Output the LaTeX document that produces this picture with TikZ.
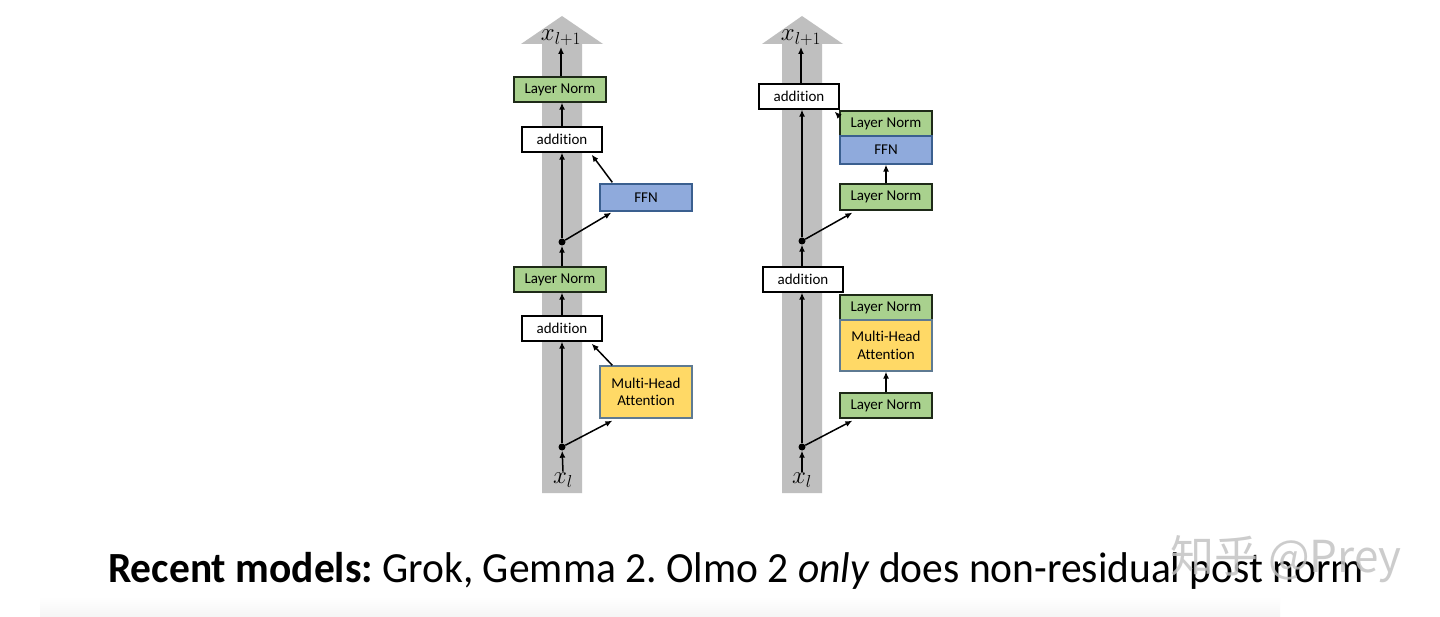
\documentclass[tikz,border=0pt]{standalone}
\usepackage{fontspec}
\setmainfont[Ligatures=NoCommon]{Carlito}
\newfontfamily\carlito[Ligatures=NoCommon]{Carlito}
\newfontfamily\cjk{Noto Sans CJK SC}
\usetikzlibrary{arrows.meta,calc}
\definecolor{barg}{HTML}{BFBFBF}
\definecolor{lngreen}{HTML}{A9D18E}
\definecolor{ffnblue}{HTML}{8FAADC}
\definecolor{mhayellow}{HTML}{FFD966}
\definecolor{lnborder}{HTML}{1E2A18}
\definecolor{ffnborder}{HTML}{3A5F8F}
\definecolor{mhaborder}{HTML}{5E7A92}
\definecolor{wmgray}{HTML}{C4C4C4}
\frenchspacing
\begin{document}
\begin{tikzpicture}[x=1pt,y=-1pt,
  blk/.style={draw, line width=1.3pt, inner sep=0pt, minimum width=92pt, minimum height=25pt,
    align=center, font=\carlito\fontsize{15}{17.5}\selectfont},
  lnbox/.style={blk, fill=lngreen, draw=lnborder},
  addbox/.style={blk, fill=white, draw=black, minimum width=80pt},
  ffnbox/.style={blk, fill=ffnblue, draw=ffnborder},
  mhabox/.style={blk, fill=mhayellow, draw=mhaborder},
  junction/.style={circle, fill=black, inner sep=0pt, minimum size=7pt},
  vlabel/.style={inner sep=1pt, font=\fontsize{27}{30}\selectfont},
  conn/.style={line width=1.5pt, -{Latex[length=7pt,width=6pt]}},
  highway/.style={fill=barg}
]
\useasboundingbox (0,0) rectangle (1440,617);
\fill[white] (0,0) rectangle (1440,617);
\shade[top color=white, bottom color=black!4] (40,597) rectangle (1280,617);

% ---------- left column (post-norm) ----------
\fill[highway] (542,493) -- (542,44) -- (521,44) -- (562,16) -- (603,44) -- (582,44) -- (582,493) -- cycle;
\node[vlabel] (xoutA) at (561,38) {$x_{l+1}$};
\node[vlabel] (xinA) at (563,480) {$x_{l}$};
\node[lnbox] (lnA1) at (560,89.5) {Layer Norm};
\node[addbox] (addA1) at (562,139.5) {addition};
\node[ffnbox, minimum height=27pt] (ffnA) at (646,197.5) {FFN};
\node[junction] (dotA2) at (562,242) {};
\node[lnbox] (lnA2) at (560,279.5) {Layer Norm};
\node[addbox] (addA2) at (562,328.5) {addition};
\node[mhabox, minimum height=52pt] (mhaA) at (646,392) {Multi-Head\\Attention};
\node[junction] (dotA1) at (562,447) {};

\draw[conn] (xinA.north) -- (dotA1);
\draw[conn] (dotA1) -- (dotA1 |- addA2.south);
\draw[conn] (dotA1) -- ($(mhaA.south west)+(13,2)$);
\draw[conn] ($(mhaA.north west)+(13,0)$) -- ($(addA2.south east)+(-11,2)$);
\draw[conn] (addA2.north) -- (addA2.north |- lnA2.south);
\draw[conn] (dotA2 |- lnA2.north) -- (dotA2);
\draw[conn] (dotA2) -- (dotA2 |- addA1.south);
\draw[conn] (dotA2) -- ($(ffnA.south west)+(12,1)$);
\draw[conn] ($(ffnA.north west)+(13,-1)$) -- ($(addA1.south east)+(-11,2)$);
\draw[conn] (addA1.north) -- (addA1.north |- lnA1.south);
\draw[conn] (xoutA.south |- lnA1.north) -- (xoutA.south);

% ---------- right column (pre+post norm) ----------
\fill[highway] (782,493) -- (782,44) -- (762,44) -- (802,16) -- (843,44) -- (822,44) -- (822,493) -- cycle;
\node[vlabel] (xoutB) at (801,38) {$x_{l+1}$};
\node[vlabel] (xinB) at (802,480) {$x_{l}$};
\node[addbox] (addB1) at (799,96.5) {addition};
\node[lnbox] (lnB1) at (886,123.5) {Layer Norm};
\node[ffnbox, minimum height=28pt] (ffnB) at (886,150) {FFN};
\node[lnbox, minimum height=26pt] (lnB2) at (886,197) {Layer Norm};
\node[junction] (dotB2) at (802,241) {};
\node[addbox] (addB2) at (803,279.5) {addition};
\node[lnbox] (lnB3) at (886,307.5) {Layer Norm};
\node[mhabox, minimum height=51pt] (mhaB) at (886,345.5) {Multi-Head\\Attention};
\node[lnbox] (lnB4) at (886,405.5) {Layer Norm};
\node[junction] (dotB1) at (802,447) {};

\draw[conn] (xinB.north) -- (dotB1);
\draw[conn] (dotB1) -- (dotB1 |- addB2.south);
\draw[conn] (dotB1) -- ($(lnB4.south west)+(13,2)$);
\draw[conn] (lnB4.north) -- (mhaB.south);
\draw[conn] (dotB2 |- addB2.north) -- (dotB2);
\draw[conn] (dotB2) -- (dotB2 |- addB1.south);
\draw[conn] (dotB2) -- ($(lnB2.south west)+(13,2)$);
\draw[conn] (lnB2.north) -- (ffnB.south);
\draw[conn] ($(lnB1.north west)+(-1,5)$) -- ($(addB1.south east)+(-5,2)$);
\draw[conn] (xoutB.south |- addB1.north) -- (xoutB.south);

% ---------- caption ----------
\node[anchor=base west, inner sep=0pt, font=\fontsize{43}{50}\selectfont] (caption) at (108,582)
  {\scalebox{0.965}[1]{\textbf{Recent models:} Grok, Gemma 2. Olmo 2 \textit{only} does non-residual post norm}};
\node[anchor=base west, inner sep=0pt, text=wmgray, opacity=0.85, font=\cjk\fontsize{44}{48}\selectfont] (wm) at (1170,572) {知乎 @Prey};
\end{tikzpicture}
\end{document}
